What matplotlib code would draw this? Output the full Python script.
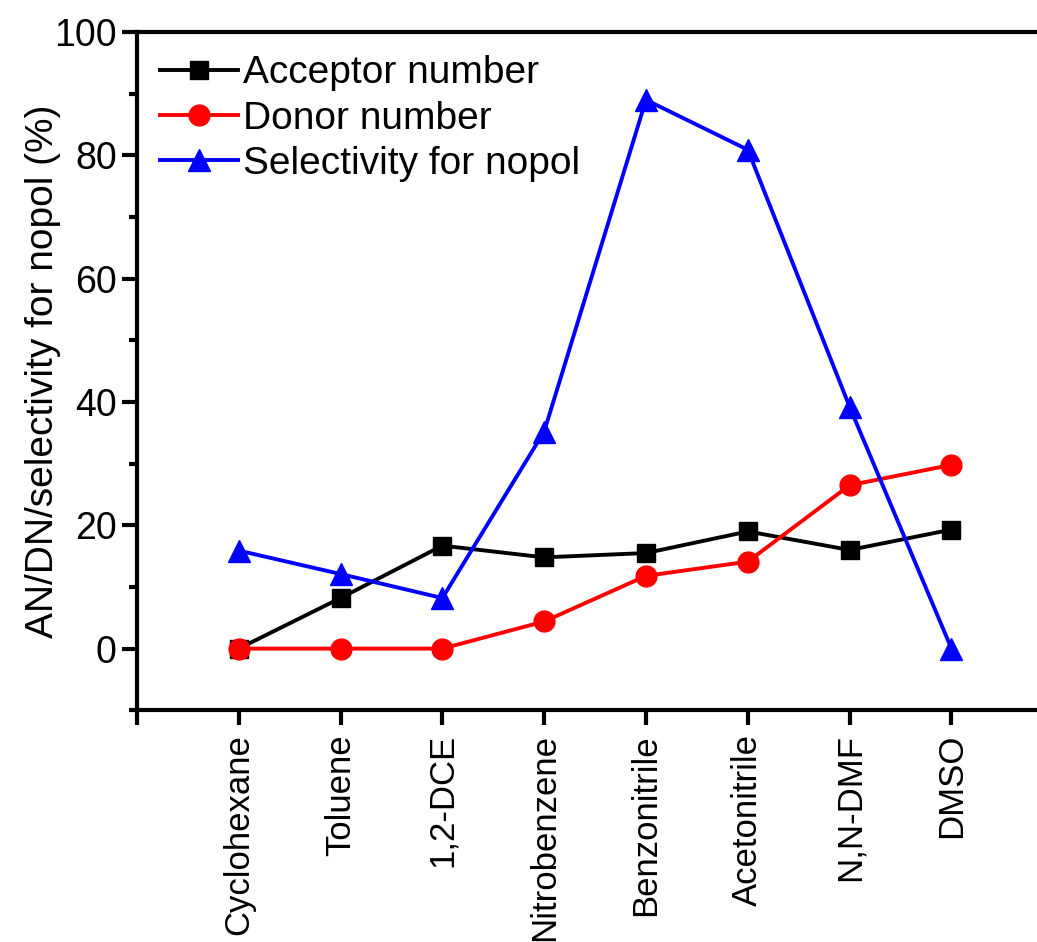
import matplotlib
matplotlib.use("Agg")
import matplotlib.pyplot as plt
from matplotlib.ticker import MultipleLocator

plt.rcParams['font.family'] = ['Liberation Sans', 'DejaVu Sans']

solvents = ["Cyclohexane", "Toluene", "1,2-DCE", "Nitrobenzene", "Benzonitrile",
            "Acetonitrile", "N,N-DMF", "DMSO"]
acceptor = [0, 8.2, 16.7, 14.8, 15.5, 19.0, 16.0, 19.3]
donor = [0, 0, 0, 4.4, 11.8, 14.1, 26.5, 29.8]
selectivity = [15.9, 12.1, 8.2, 35.2, 89.0, 80.9, 39.2, 0]

fig = plt.figure(figsize=(10.37, 9.42), dpi=100)
ax = fig.add_axes([0.132, 0.246, 0.868, 0.720])

x = list(range(len(solvents)))
ax.plot(x, acceptor, color='black', marker='s', markersize=13, linewidth=2.8,
        label='Acceptor number')
ax.plot(x, donor, color='red', marker='o', markersize=15, linewidth=2.8,
        label='Donor number')
ax.plot(x, selectivity, color='blue', marker='^', markersize=16.5, linewidth=2.8,
        label='Selectivity for nopol')

ax.set_xlim(-1, 7.84)
ax.set_ylim(-10, 100)
ax.set_xticks([-1] + x)
ax.set_xticklabels([''] + solvents, rotation=90, fontsize=25)
ax.yaxis.set_major_locator(MultipleLocator(20))
ax.yaxis.set_minor_locator(MultipleLocator(10))
ax.tick_params(axis='y', which='major', labelsize=27, length=11, width=3, direction='out')
ax.tick_params(axis='y', which='minor', length=6, width=3, direction='out')
ax.tick_params(axis='x', which='major', length=11, width=3, direction='out', pad=6)
ax.set_ylabel('AN/DN/selectivity for nopol (%)', fontsize=28)
ax.yaxis.set_label_coords(-0.084, 0.5)

for s in ['left', 'bottom', 'top']:
    ax.spines[s].set_linewidth(3)
ax.spines['right'].set_visible(False)

ax.legend(loc='upper left', frameon=False, fontsize=28, handlelength=2.0,
          handletextpad=0.12, labelspacing=0.24, borderaxespad=0.2,
          bbox_to_anchor=(0.0, 1.0))

fig.savefig('out.png', dpi=100)
